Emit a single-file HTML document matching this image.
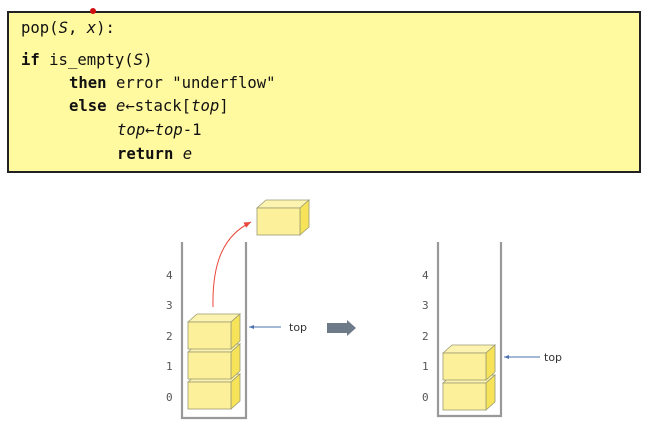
<!DOCTYPE html>
<html><head><meta charset="utf-8"><style>
html,body{margin:0;padding:0;background:#fff;width:655px;height:427px;overflow:hidden}
svg{display:block}
.code{font-family:"DejaVu Sans Mono","Liberation Mono",monospace;font-size:15.6px;fill:#111}
.b{font-weight:bold}
.i{font-style:italic}
.n{font-family:"DejaVu Sans Mono","Liberation Mono",monospace;font-size:11px;fill:#555}
.t{font-family:"DejaVu Sans","Liberation Sans",sans-serif;font-size:11px;fill:#333}
</style></head><body>
<svg width="655" height="427" viewBox="0 0 655 427" xmlns="http://www.w3.org/2000/svg">
<defs>
<g id="box">
<polygon points="0,0 9,-8 52,-8 43,0" fill="#fdf3b0" stroke="#9a9a70" stroke-width="0.8"/>
<polygon points="43,0 52,-8 52,19 43,27" fill="#f7e35a" stroke="#9a9a70" stroke-width="0.8"/>
<rect x="0" y="0" width="43" height="27" fill="#fdf09a" stroke="#9a9a70" stroke-width="0.8"/>
</g>
<marker id="ar" markerWidth="8" markerHeight="8" refX="7" refY="4" orient="auto" markerUnits="userSpaceOnUse"><path d="M0,1 L7,4 L0,7 Z" fill="#e8473a"/></marker>
<marker id="ab" markerWidth="6" markerHeight="6" refX="5" refY="3" orient="auto" markerUnits="userSpaceOnUse"><path d="M0,1 L5,3 L0,5 Z" fill="#4a72b0"/></marker>
</defs>
<rect x="8" y="12" width="632" height="160" fill="#fff9a0" stroke="#222" stroke-width="2"/>
<circle cx="93" cy="11" r="3" fill="#d01010"/>
<text class="code" x="21" y="33">pop(<tspan class="i">S</tspan>, <tspan class="i">x</tspan>):</text>
<text class="code" x="21" y="65"><tspan class="b">if</tspan> is_empty(<tspan class="i">S</tspan>)</text>
<text class="code" x="69" y="88"><tspan class="b">then</tspan> error "underflow"</text>
<text class="code" x="69" y="111"><tspan class="b">else</tspan> <tspan class="i">e</tspan>←stack[<tspan class="i">top</tspan>]</text>
<text class="code" x="117" y="135"><tspan class="i">top</tspan>←<tspan class="i">top</tspan>-1</text>
<text class="code" x="117" y="159"><tspan class="b">return</tspan> <tspan class="i">e</tspan></text>

<path d="M182,242 V418 H246 V242" fill="none" stroke="#999" stroke-width="2.2"/>
<use href="#box" x="188" y="382"/>
<use href="#box" x="188" y="352"/>
<use href="#box" x="188" y="322"/>
<use href="#box" x="257" y="208"/>
<path d="M213,307 C212,260 225,235 251,222" fill="none" stroke="#e8473a" stroke-width="1" marker-end="url(#ar)"/>
<text class="n" x="166" y="279">4</text>
<text class="n" x="166" y="309">3</text>
<text class="n" x="166" y="340">2</text>
<text class="n" x="166" y="370">1</text>
<text class="n" x="166" y="401">0</text>
<line x1="281" y1="327" x2="249" y2="327" stroke="#4a72b0" stroke-width="0.9" marker-end="url(#ab)"/>
<text class="t" x="289" y="331">top</text>
<polygon points="327,323 347,323 347,320 356,328 347,336 347,333 327,333" fill="#6d7a88"/>

<path d="M438,242 V416 H501 V242" fill="none" stroke="#999" stroke-width="2.2"/>
<use href="#box" x="443" y="383"/>
<use href="#box" x="443" y="353"/>
<text class="n" x="422" y="279">4</text>
<text class="n" x="422" y="309">3</text>
<text class="n" x="422" y="340">2</text>
<text class="n" x="422" y="370">1</text>
<text class="n" x="422" y="401">0</text>
<line x1="540" y1="357" x2="504" y2="357" stroke="#4a72b0" stroke-width="0.9" marker-end="url(#ab)"/>
<text class="t" x="544" y="361">top</text>
</svg>
</body></html>
